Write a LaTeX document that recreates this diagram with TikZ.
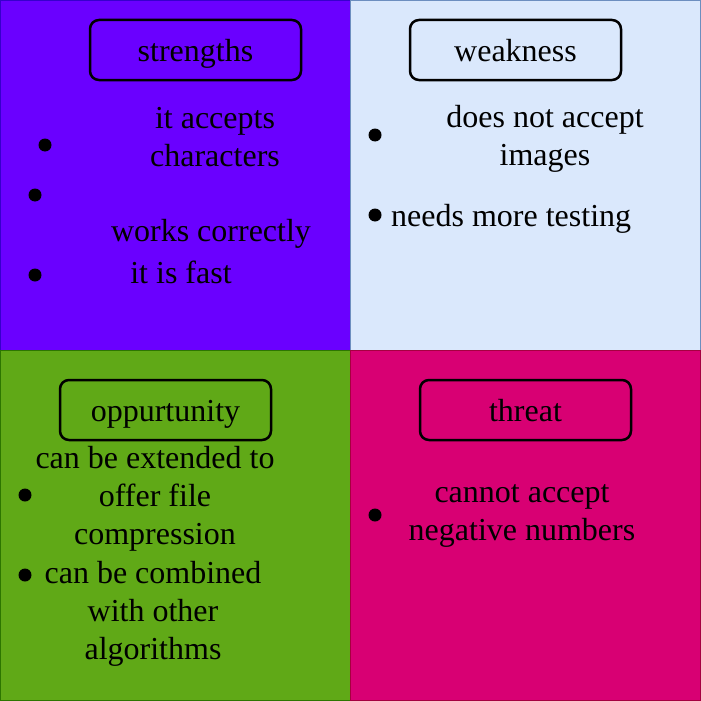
\documentclass[tikz,border=0pt]{standalone}
\usepackage{fontspec}
\setmainfont{Liberation Serif}
\definecolor{cPurple}{HTML}{6A00FF}
\definecolor{cPurpleB}{HTML}{3700CC}
\definecolor{cBlue}{HTML}{DAE8FC}
\definecolor{cBlueB}{HTML}{6C8EBF}
\definecolor{cGreen}{HTML}{60A917}
\definecolor{cGreenB}{HTML}{2D7600}
\definecolor{cPink}{HTML}{D80073}
\definecolor{cPinkB}{HTML}{A50040}
\begin{document}
\begin{tikzpicture}[x=1pt,y=-1pt,
  quad/.style={line width=1pt},
  titlebox/.style={draw=black,line width=2.5pt,rounded corners=9pt,minimum width=211pt,minimum height=60pt,inner sep=0pt,text height=23pt,text depth=0pt,font=\fontsize{32}{38}\selectfont},
  txt/.style={inner sep=0pt,align=center,font=\fontsize{32}{38}\selectfont},
  bul/.style={circle,fill=black,inner sep=0pt,minimum size=13pt}]
\useasboundingbox (0,0) rectangle (701,701);
\draw[quad,fill=cPurple,draw=cPurpleB] (0.5,0.5) rectangle (350.5,350.5);
\draw[quad,fill=cBlue,draw=cBlueB] (350.5,0.5) rectangle (700.5,350.5);
\draw[quad,fill=cGreen,draw=cGreenB] (0.5,350.5) rectangle (350.5,700.5);
\draw[quad,fill=cPink,draw=cPinkB] (350.5,350.5) rectangle (700.5,700.5);
% titles
\node[titlebox] (tS) at (195.5,50) {strengths};
\node[titlebox] (tW) at (515.5,50) {weakness};
\node[titlebox] (tO) at (165.5,410) {oppurtunity};
\node[titlebox] (tT) at (525.5,410) {threat};
% strengths
\node[bul] (bS1) at (45,145) {};
\node[bul] (bS2) at (35,195) {};
\node[bul] (bS3) at (35,275) {};
\node[txt] (s1) at (215,137) {it accepts\\characters};
\node[txt] (s2) at (211,234) {works correctly};
\node[txt] (s3) at (181,272) {it is fast};
% weakness
\node[bul] (bW1) at (375,135) {};
\node[bul] (bW2) at (375,215) {};
\node[txt] (w1) at (545,139) {does not accept\\images};
\node[txt,anchor=west] (w2) at (391,219) {needs more testing};
% opportunity
\node[bul] (bO1) at (25,495) {};
\node[bul] (bO2) at (25,575) {};
\node[txt] (o1) at (155,499) {can be extended to\\offer file\\compression};
\node[txt] (o2) at (153,614) {can be combined\\with other\\algorithms};
% threat
\node[bul] (bT1) at (375,515) {};
\node[txt] (t1) at (522,516) {cannot accept\\negative numbers};
\end{tikzpicture}
\end{document}
